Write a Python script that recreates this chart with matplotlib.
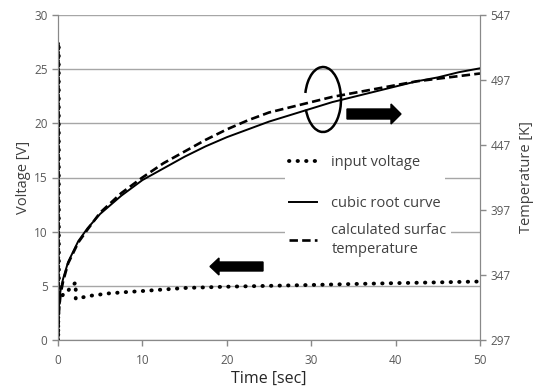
import matplotlib
matplotlib.use("Agg")
import matplotlib.pyplot as plt
from matplotlib.patches import Arc, Polygon
from matplotlib.lines import Line2D

plt.rcParams["font.family"] = ["Open Sans", "DejaVu Sans"]

# input voltage (left axis, V)
t_in = [0, 0, 0.03, 0.06, 0.1, 0.3, 0.6, 1.0, 1.5, 2.1, 2.1, 2.1, 3, 4, 5, 6, 8, 10,
        15, 20, 25, 30, 35, 40, 45, 50]
v_in = [0, 27.5, 0.3, 27.4, 3.4, 3.8, 4.2, 4.3, 4.9, 5.3, 4.5, 3.8, 3.95, 4.1, 4.2, 4.3, 4.42, 4.52,
        4.8, 4.92, 5.0, 5.08, 5.17, 5.25, 5.32, 5.4]

# temperatures (right axis, K)
t_temp = [0, 0.05, 0.15, 0.3, 0.6, 1.2, 2.4, 3.5, 5, 7.5, 10, 12.5, 15, 17.5, 20,
          22.5, 25, 27.5, 30, 32.5, 35, 37.5, 40, 42.5, 45, 47.5, 50]
temp_cubic = [297, 318, 327, 335, 344, 357, 373, 383, 394, 408, 420, 429, 438, 446, 453,
              459, 465, 470, 475, 480, 484, 488, 492, 496, 499, 503, 506]
temp_calc = [297, 312, 322, 332, 342, 356, 372, 382, 395, 410, 422, 433, 442, 451, 459,
             466, 472, 476, 480, 484, 487, 490, 493, 496, 498, 500, 502]

labels = ["input voltage", "cubic root curve", "calculated surfac\ntemperature"]
x_ticks = [0, 10, 20, 30, 40, 50]
v_ticks = [0, 5, 10, 15, 20, 25, 30]
k_ticks = [297, 347, 397, 447, 497, 547]

W, H = 538, 391
fig = plt.figure(figsize=(W / 100, H / 100), dpi=100)
ax = fig.add_axes([58 / W, 1 - 340 / H, 422 / W, 325 / H])
ax2 = ax.twinx()

tick_col = "#595959"
spine_col = "#898989"
grid_col = "#a6a6a6"

dot_kw = dict(color="black", lw=2.8, dashes=(0.1, 2.1), dash_capstyle="round")
dash_kw = dict(color="black", lw=1.9, dashes=(3.2, 1.6))
solid_kw = dict(color="black", lw=1.4)

ax.plot(t_in, v_in, **dot_kw)
ax2.plot(t_temp, temp_calc, **dash_kw)
ax2.plot(t_temp, temp_cubic, **solid_kw)

ax.set_xlim(0, 50)
ax.set_ylim(0, 30)
ax2.set_ylim(297, 547)
ax.set_xticks(x_ticks)
ax.set_yticks(v_ticks)
ax2.set_yticks(k_ticks)

ax.grid(True, axis="y", color=grid_col, lw=1)
ax.set_axisbelow(True)
for a in (ax, ax2):
    a.spines["top"].set_visible(False)
    for s in ("left", "right", "bottom"):
        a.spines[s].set_color(spine_col)
    a.tick_params(colors=spine_col, labelcolor=tick_col, labelsize=8.5, length=4, width=1)
ax.tick_params(axis="x", pad=6)

ax.set_ylabel("Voltage [V]", fontsize=10.5, color="#404040", labelpad=2)
ax2.set_ylabel("Temperature [K]", fontsize=10.5, color="#404040", labelpad=6)
ax.set_xlabel("Time [sec]", fontsize=11.5, color="#262626", labelpad=3)

handles = [Line2D([], [], **dot_kw), Line2D([], [], **solid_kw), Line2D([], [], **dash_kw)]
leg_kw = dict(frameon=True, fontsize=10.5, handlelength=1.9, borderpad=0.3, handletextpad=1.0)

# the two-line entry sits closer to the others than one legend allows, so split it
leg1 = ax2.legend(handles[:2], labels[:2], loc="upper left", bbox_to_anchor=(0.52, 0.606),
                  labelspacing=1.8, **leg_kw)
ax2.add_artist(leg1)
leg2 = ax2.legend(handles[2:], labels[2:], loc="center left", bbox_to_anchor=(0.52, 0.308),
                  **leg_kw)
for leg in (leg1, leg2):
    leg.get_frame().set_edgecolor("none")
    leg.get_frame().set_facecolor("white")
    leg.get_frame().set_alpha(1)
    for txt in leg.get_texts():
        txt.set_color("#404040")
        txt.set_linespacing(1.3)


def px(x, y):
    return (x / W, 1 - y / H)


def arrow(x_tail, x_tip, y, body, head, head_len):
    d = 1 if x_tip > x_tail else -1
    xb = x_tip - d * head_len
    pts = [(x_tail, y - body), (xb, y - body), (xb, y - head), (x_tip, y),
           (xb, y + head), (xb, y + body), (x_tail, y + body)]
    return Polygon([px(a, b) for a, b in pts], closed=True, transform=fig.transFigure,
                   color="black", zorder=10)


fig.patches.append(arrow(347, 401, 114, 5, 10, 10))
fig.patches.append(arrow(263, 210, 266.5, 4.5, 8.5, 9))

cx, cy = px(323, 99.5)
arc = Arc((cx, cy), 36 / W, 65 / H, theta1=-141, theta2=153, transform=fig.transFigure,
          color="black", lw=1.8, zorder=10)
fig.patches.append(arc)

fig.savefig("out.png", dpi=100)
